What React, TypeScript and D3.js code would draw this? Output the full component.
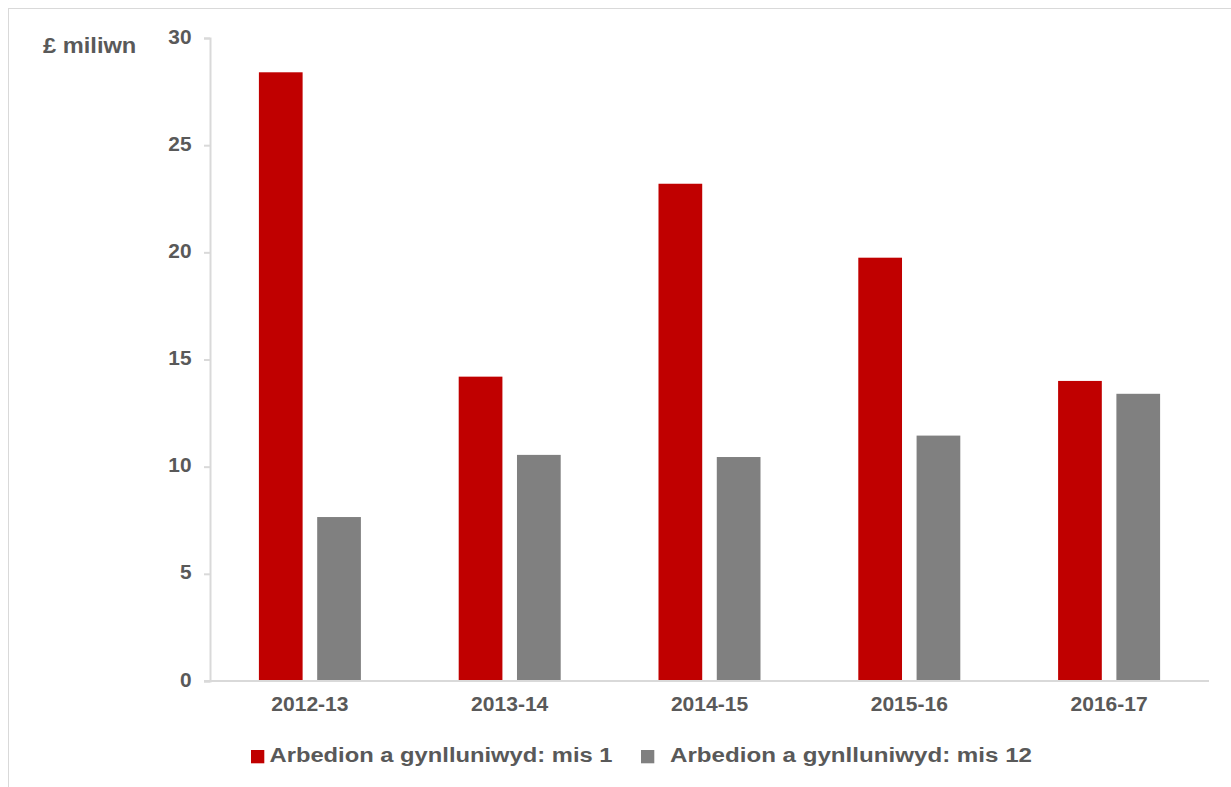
import React, { useRef, useEffect } from "react";
import { select, scaleLinear, scaleBand, axisLeft, axisBottom } from "d3";

const years = ["2012-13", "2013-14", "2014-15", "2015-16", "2016-17"];
const month1 = [28.4, 14.2, 23.2, 19.75, 14.0];
const month12 = [7.65, 10.55, 10.45, 11.45, 13.4];
const seriesNames = ["Arbedion a gynlluniwyd: mis 1", "Arbedion a gynlluniwyd: mis 12"];
const yTicks = [0, 5, 10, 15, 20, 25, 30];

const colors = ["#c00000", "#808080"];
const textColor = "#595959";
const gridColor = "#d9d9d9";
const font = "'Liberation Sans', Arial, sans-serif";

const W = 1231;
const H = 787;
const left = 210;
const right = 1209;
const top = 38;
const bottom = 681;

const App: React.FC = () => {
  const svgRef = useRef<SVGSVGElement>(null);

  useEffect(() => {
    const svg = select(svgRef.current);
    svg.selectAll("*").remove();

    const x = scaleBand().domain(years).range([left, right]);
    const inner = scaleBand().domain(["0", "1"]).range([0, 102]).paddingInner(0.25);
    const y = scaleLinear().domain([0, 30]).range([bottom, top]);

    svg
      .append("rect")
      .attr("x", 8.5)
      .attr("y", 8.5)
      .attr("width", W + 20)
      .attr("height", H + 20)
      .attr("fill", "none")
      .attr("stroke", gridColor);

    // bars
    const series = [month1, month12];
    series.forEach((vals, si) => {
      svg
        .append("g")
        .selectAll("rect")
        .data(vals)
        .join("rect")
        .attr("x", (_, i) => x(years[i])! + x.bandwidth() / 2 - 51 + inner(String(si))!)
        .attr("y", (d) => y(d))
        .attr("width", inner.bandwidth())
        .attr("height", (d) => bottom - y(d))
        .attr("fill", colors[si]);
    });

    // y axis
    const ySx = 1.07;
    const yAxis = axisLeft(y).tickValues(yTicks).tickSize(6).tickPadding(12);
    const gy = svg.append("g").attr("transform", `translate(${left},0)`).call(yAxis);
    gy.selectAll("text")
      .attr("font-family", font)
      .attr("font-size", 19.5)
      .attr("font-weight", "bold")
      .attr("fill", textColor)
      .attr("x", -18.5 / ySx)
      .attr("dy", "0.26em")
      .attr("transform", `scale(${ySx},1)`);

    // x axis
    const xAxis = axisBottom(x).tickSize(0).tickPadding(16);
    const gx = svg.append("g").attr("transform", `translate(0,${bottom})`).call(xAxis);
    gx.select(".domain").attr("d", `M${left - 6},0H${right}`);
    gx.selectAll("text")
      .attr("font-family", font)
      .attr("font-size", 19.5)
      .attr("font-weight", "bold")
      .attr("fill", textColor)
      .attr("transform", "scale(1.08,1)");

    svg.selectAll(".domain, .tick line").attr("stroke", gridColor).attr("stroke-width", 2);

    svg
      .append("text")
      .attr("transform", "translate(43,53) scale(1.1,1)")
      .attr("font-family", font)
      .attr("font-size", 21.5)
      .attr("font-weight", "bold")
      .attr("fill", textColor)
      .text("£ miliwn");

    // legend
    const legendX = [251, 641];
    const legendTextX = [18.5, 29];
    const legendLen = [343, 362];
    seriesNames.forEach((name, i) => {
      const g = svg.append("g").attr("transform", `translate(${legendX[i]},750)`);
      g.append("rect").attr("width", 13.3).attr("height", 13.3).attr("fill", colors[i]);
      g.append("text")
        .attr("x", legendTextX[i])
        .attr("y", 11.8)
        .attr("font-family", font)
        .attr("font-size", 19.5)
        .attr("font-weight", "bold")
        .attr("fill", textColor)
        .attr("textLength", legendLen[i])
        .attr("lengthAdjust", "spacingAndGlyphs")
        .text(name);
    });
  }, []);

  return (
    <svg
      ref={svgRef}
      width={W}
      height={H}
      style={{ position: "absolute", left: 0, top: 0, background: "#fff" }}
    ></svg>
  );
};

export default App;
